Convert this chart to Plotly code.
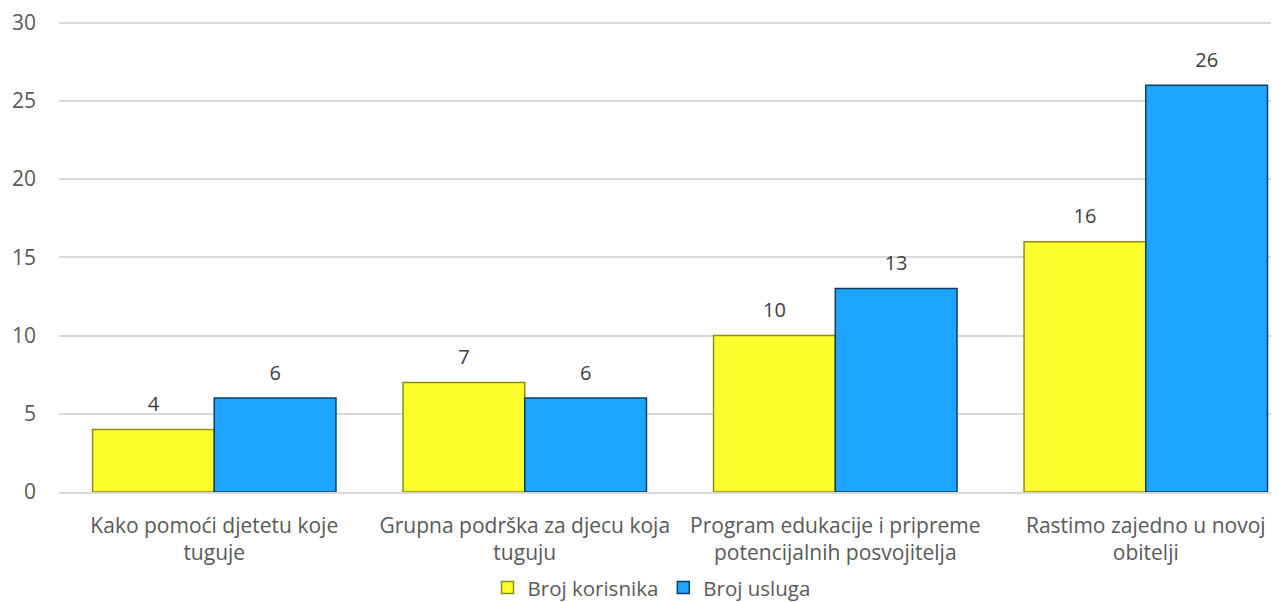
import plotly.graph_objects as go

categories = [
    "Kako pomoći djetetu koje<br>tuguje",
    "Grupna podrška za djecu koja<br>tuguju",
    "Program edukacije i pripreme<br>potencijalnih posvojitelja",
    "Rastimo zajedno u novoj<br>obitelji",
]
broj_korisnika = [4, 7, 10, 16]
broj_usluga = [6, 6, 13, 26]
y_ticks = [0, 5, 10, 15, 20, 25, 30]

font_family = "Open Sans, Noto Sans, sans-serif"
label_color = "#595959"
GAP = 0.216

fig = go.Figure()
series = [
    ("Broj korisnika", broj_korisnika, "#FFFF2E", "#8C8C10", "a"),
    ("Broj usluga", broj_usluga, "#1EA5FF", "#0B3F66", "b"),
]
for name, vals, col, edge, grp in series:
    fig.add_trace(go.Bar(
        name=name, x=categories, y=vals, offsetgroup=grp,
        marker=dict(color=col, line=dict(color=edge, width=1.5)),
        hoverinfo="x+y",
    ))
for name, vals, col, edge, grp in series:
    fig.add_trace(go.Scatter(
        x=categories, y=vals, offsetgroup=grp, mode="markers+text",
        marker=dict(size=20, opacity=0), text=[str(v) for v in vals],
        textposition="top center", showlegend=False, cliponaxis=False,
        textfont=dict(size=20, color="#404040", family=font_family),
        hoverinfo="skip",
    ))

fig.update_layout(
    width=1271, height=594,
    margin=dict(l=51, r=0, t=13.4, b=110),
    paper_bgcolor="white", plot_bgcolor="white",
    barmode="group", bargap=GAP, bargroupgap=0,
    scattermode="group", scattergap=GAP,
    font=dict(family=font_family, size=20, color=label_color),
    showlegend=True,
    legend=dict(orientation="h", x=0.5063, xanchor="center", xref="container",
                y=0.024, yanchor="middle", yref="container",
                font=dict(size=20.5, color=label_color), itemwidth=30,
                traceorder="normal"),
)
fig.update_yaxes(
    range=[0, 30.1], tickvals=y_ticks, showgrid=True, gridcolor="#D9D9D9", gridwidth=1.5,
    zeroline=False, showline=False, ticks="", ticklabelstandoff=22,
    ticklabeloverflow="allow", automargin=False,
    tickfont=dict(size=21, color=label_color),
)
fig.update_xaxes(
    range=[-0.5, 3.429],
    showline=True, linecolor="#D9D9D9", linewidth=1.5, ticks="",
    ticklabelstandoff=14, ticklabeloverflow="allow",
    tickfont=dict(size=21, color=label_color), automargin=False,
)

fig.write_html("out.html")
